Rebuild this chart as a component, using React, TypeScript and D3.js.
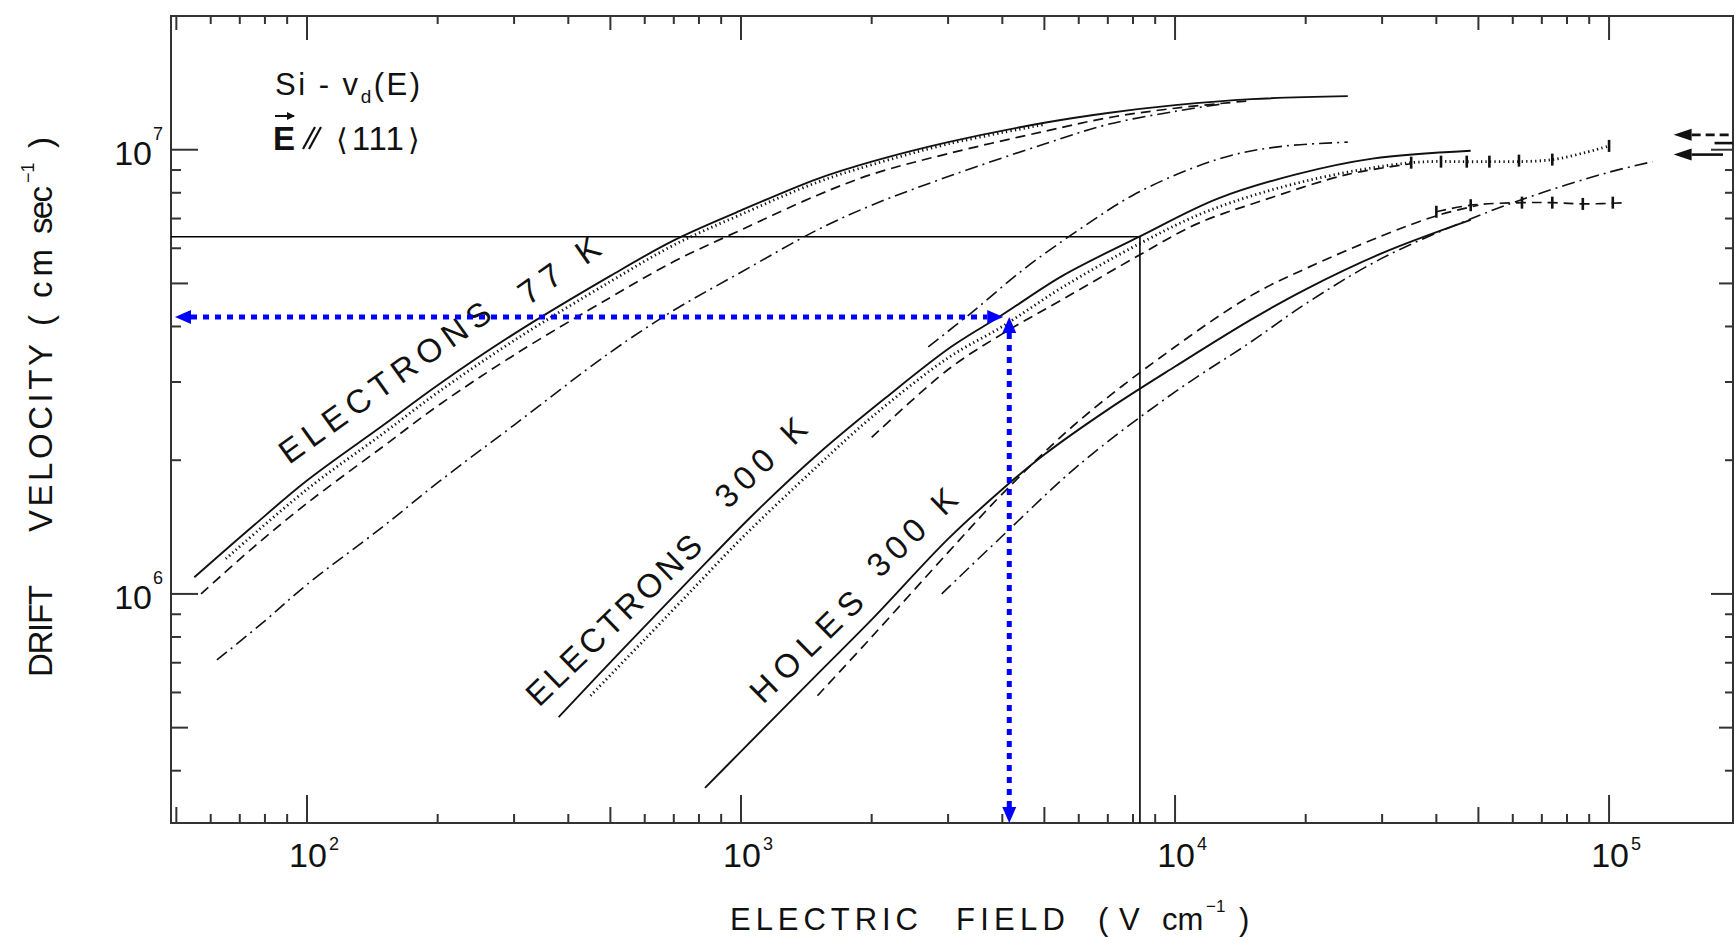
import React from "react";
import * as d3 from "d3";

type Pt = [number, number]; // [electric field (V/cm), drift velocity (cm/s)]

const WIDTH = 1735;
const HEIGHT = 937;
const PLOT = { left: 171, right: 1733, top: 16, bottom: 823 };

const FIELD_DOMAIN: [number, number] = [48.6, 1.93e5];
const VELOCITY_DOMAIN: [number, number] = [3.05e5, 2.0e7];

const xDecades = [1e2, 1e3, 1e4, 1e5];
const xDecadeExponents = ["2", "3", "4", "5"];
const yDecades = [1e6, 1e7];
const yDecadeExponents = ["6", "7"];

// Electrons, 77 K
const e77Solid: Pt[] = [
  [55, 1.09e6], [75, 1.42e6], [100, 1.8e6], [150, 2.4e6], [200, 2.95e6],
  [300, 3.85e6], [500, 5.2e6], [700, 6.25e6], [1000, 7.3e6], [1500, 8.6e6],
  [2000, 9.4e6], [3000, 1.04e7], [5000, 1.15e7], [7000, 1.21e7], [1e4, 1.26e7],
  [1.5e4, 1.3e7], [2.5e4, 1.32e7],
];
const e77Dotted: Pt[] = [
  [65, 1.2e6], [100, 1.72e6], [150, 2.3e6], [200, 2.84e6], [300, 3.72e6],
  [500, 5.05e6], [700, 6.1e6], [1000, 7.15e6], [1500, 8.45e6], [2000, 9.25e6],
  [3000, 1.03e7], [5000, 1.14e7],
];
const e77Dashed: Pt[] = [
  [57, 1.0e6], [75, 1.27e6], [100, 1.6e6], [150, 2.15e6], [200, 2.65e6],
  [300, 3.45e6], [500, 4.65e6], [700, 5.6e6], [1000, 6.6e6], [1500, 7.9e6],
  [2000, 8.8e6], [3000, 9.8e6], [5000, 1.1e7], [7000, 1.18e7], [1e4, 1.24e7],
  [1.5e4, 1.29e7],
];
const e77DashDot: Pt[] = [
  [62, 7.1e5], [80, 8.7e5], [100, 1.05e6], [150, 1.42e6], [200, 1.78e6],
  [300, 2.4e6], [500, 3.5e6], [700, 4.35e6], [1000, 5.3e6], [1500, 6.6e6],
  [2000, 7.5e6], [3000, 8.7e6], [5000, 1.03e7], [7000, 1.14e7], [1e4, 1.22e7],
  [1.3e4, 1.27e7],
];

// Electrons, 300 K
const e300Solid: Pt[] = [
  [380, 5.28e5], [525, 7.38e5], [750, 1.06e6], [1060, 1.5e6], [1500, 2.06e6],
  [2150, 2.76e6], [3050, 3.6e6], [4000, 4.25e6], [5500, 5.2e6], [8300, 6.38e6],
  [1.25e4, 7.75e6], [1.9e4, 8.8e6], [2.85e4, 9.55e6], [4.8e4, 9.95e6],
];
const e300Dotted: Pt[] = [
  [450, 5.9e5], [600, 7.9e5], [800, 1.06e6], [1000, 1.33e6], [1500, 1.94e6],
  [2000, 2.5e6], [3000, 3.4e6], [4000, 4.0e6], [5500, 4.9e6], [8300, 6.15e6],
  [1.2e4, 7.3e6], [2e4, 8.5e6], [3.5e4, 9.35e6], [5e4, 9.4e6], [7.4e4, 9.5e6],
  [1e5, 1.02e7],
];
const e300Markers: Pt[] = [
  [3.5e4, 9.35e6], [4.1e4, 9.4e6], [4.7e4, 9.4e6], [5.3e4, 9.4e6],
  [6.2e4, 9.45e6], [7.4e4, 9.5e6], [1e5, 1.02e7],
];
const e300Dashed: Pt[] = [
  [2000, 2.25e6], [3000, 3.2e6], [4000, 3.85e6], [5500, 4.6e6], [8300, 5.8e6],
  [1.12e4, 6.8e6], [1.6e4, 7.7e6], [2.5e4, 8.8e6], [3.5e4, 9.3e6],
];
const e300DashDot: Pt[] = [
  [2700, 3.6e6], [3400, 4.3e6], [4500, 5.4e6], [6000, 6.6e6], [8000, 7.9e6],
  [1.1e4, 9.1e6], [1.4e4, 9.8e6], [1.8e4, 1.02e7], [2.5e4, 1.04e7],
];

// Holes, 300 K
const hSolid: Pt[] = [
  [826, 3.66e5], [1000, 4.42e5], [1500, 6.6e5], [2000, 8.75e5], [3000, 1.33e6],
  [4000, 1.72e6], [5000, 2.06e6], [7000, 2.6e6], [1e4, 3.25e6], [1.5e4, 4.15e6],
  [2e4, 4.85e6], [3e4, 5.85e6], [4.8e4, 6.95e6],
];
const hDashed: Pt[] = [
  [1500, 5.9e5], [2000, 8.0e5], [3000, 1.24e6], [4000, 1.68e6], [6000, 2.45e6],
  [1e4, 3.6e6], [1.5e4, 4.7e6], [2e4, 5.4e6], [3e4, 6.4e6], [4e4, 7.1e6],
  [5e4, 7.5e6],
];
const hPlateau: Pt[] = [
  [4.0e4, 7.25e6], [4.8e4, 7.5e6], [6.3e4, 7.6e6], [7.4e4, 7.6e6],
  [8.7e4, 7.55e6], [1.1e5, 7.6e6],
];
const hMarkers: Pt[] = [
  [4.0e4, 7.25e6], [4.8e4, 7.5e6], [6.3e4, 7.6e6], [7.4e4, 7.6e6],
  [8.7e4, 7.55e6], [1.02e5, 7.6e6],
];
const hDashDot: Pt[] = [
  [2900, 1.0e6], [4000, 1.35e6], [6000, 1.95e6], [1e4, 2.85e6], [1.5e4, 3.7e6],
  [2e4, 4.5e6], [3e4, 5.7e6], [5e4, 7.1e6], [7e4, 8.0e6], [1e5, 8.9e6],
  [1.26e5, 9.4e6],
];

// Saturation-velocity arrows at the right edge
const satArrowDashed = 1.08e7;
const satArrowSolid = 9.75e6;
const satMark = 1.035e7;

// Guide lines
const guideField = 8300;
const guideVelocity = 6.37e6;
const readField = 4150;
const readVelocity = 4.2e6;

const FONT = "'Liberation Sans', Arial, Helvetica, sans-serif";
const AXIS = "#333";

const x = d3.scaleLog().domain(FIELD_DOMAIN).range([PLOT.left, PLOT.right]);
const y = d3.scaleLog().domain(VELOCITY_DOMAIN).range([PLOT.bottom, PLOT.top]);

const line = d3
  .line<Pt>()
  .x((d) => x(d[0]))
  .y((d) => y(d[1]))
  .curve(d3.curveCatmullRom.alpha(0.5));

function mantissa(v: number) {
  return Math.round(v / Math.pow(10, Math.floor(Math.log10(v) + 1e-9)));
}

function tickLen(v: number, major: number, mid: number, minor: number) {
  const m = mantissa(v);
  return m === 1 ? major : m === 5 ? mid : minor;
}

const styles = {
  solid: { stroke: "#111", strokeWidth: 1.9, fill: "none" },
  dotted: { stroke: "#111", strokeWidth: 2.8, fill: "none", strokeDasharray: "1.3 3.2" },
  dashed: { stroke: "#111", strokeWidth: 1.7, fill: "none", strokeDasharray: "10 6" },
  dashDot: { stroke: "#111", strokeWidth: 1.6, fill: "none", strokeDasharray: "13 5 2 5" },
};

function Curve({ data, kind }: { data: Pt[]; kind: keyof typeof styles }) {
  return <path d={line(data) ?? ""} {...(styles[kind] as any)} />;
}

function Markers({ data }: { data: Pt[] }) {
  return (
    <g stroke="#111" strokeWidth={2.6}>
      {data.map((d, i) => (
        <line key={i} x1={x(d[0])} x2={x(d[0])} y1={y(d[1]) - 6} y2={y(d[1]) + 6} />
      ))}
    </g>
  );
}

function RotLabel({ x0, y0, angle, len, text, size = 33 }: { x0: number; y0: number; angle: number; len: number; text: string; size?: number }) {
  return (
    <text
      transform={`translate(${x0},${y0}) rotate(${angle})`}
      fontFamily={FONT}
      fontSize={size}
      fill="#111"
      textLength={len}
      lengthAdjust="spacing"
    >
      {text}
    </text>
  );
}

function BlueArrow({ x1, y1, x2, y2 }: { x1: number; y1: number; x2: number; y2: number }) {
  // dotted shaft with a filled head at each end
  const dx = x2 - x1;
  const dy = y2 - y1;
  const L = Math.hypot(dx, dy);
  const ux = dx / L;
  const uy = dy / L;
  const head = 16;
  const half = 7;
  const headAt = (tx: number, ty: number, dirx: number, diry: number) => {
    const bx = tx - dirx * head;
    const by = ty - diry * head;
    return `M${tx},${ty}L${bx - diry * half},${by + dirx * half}L${bx + diry * half},${by - dirx * half}Z`;
  };
  return (
    <g>
      <line
        x1={x1 + ux * head}
        y1={y1 + uy * head}
        x2={x2 - ux * head}
        y2={y2 - uy * head}
        stroke="#0000ff"
        strokeWidth={5}
        strokeDasharray="6 6"
      />
      <path d={headAt(x1, y1, -ux, -uy)} fill="#0000ff" />
      <path d={headAt(x2, y2, ux, uy)} fill="#0000ff" />
    </g>
  );
}

export default function App() {
  const xt = x.ticks();
  const yt = y.ticks();
  const px = x(readField);
  const py = y(readVelocity);
  const gx = x(guideField);
  const gy = y(guideVelocity);

  const arrowHead = (tipX: number, vy: number) =>
    `M${tipX},${vy}L${tipX + 18},${vy - 6}L${tipX + 18},${vy + 6}Z`;

  return (
    <svg
      width={WIDTH}
      height={HEIGHT}
      style={{ position: "absolute", left: 0, top: 0, background: "#fff" }}
    >
      <rect width={WIDTH} height={HEIGHT} fill="#fff" />

      {/* frame */}
      <rect
        x={PLOT.left}
        y={PLOT.top}
        width={PLOT.right - PLOT.left}
        height={PLOT.bottom - PLOT.top}
        fill="none"
        stroke={AXIS}
        strokeWidth={2}
      />

      {/* ticks on all four sides, pointing inward */}
      <g stroke={AXIS} strokeWidth={2}>
        {xt.map((t, i) => (
          <g key={"xt" + i}>
            <line x1={x(t)} x2={x(t)} y1={PLOT.bottom} y2={PLOT.bottom - tickLen(t, 28, 16, 9)} />
            <line x1={x(t)} x2={x(t)} y1={PLOT.top} y2={PLOT.top + tickLen(t, 24, 14, 8)} />
          </g>
        ))}
        {yt.map((t, i) => (
          <g key={"yt" + i}>
            <line x1={PLOT.left} x2={PLOT.left + tickLen(t, 27, 17, 10)} y1={y(t)} y2={y(t)} />
            <line x1={PLOT.right} x2={PLOT.right - tickLen(t, 22, 14, 8)} y1={y(t)} y2={y(t)} />
          </g>
        ))}
      </g>

      {/* decade labels */}
      <g fontFamily={FONT} fill="#111">
        {xDecades.map((t, i) => (
          <g key={"xl" + i}>
            <text x={x(t) + 1} y={867} fontSize={34} textAnchor="middle">10</text>
            <text x={x(t) + 22} y={850} fontSize={18}>{xDecadeExponents[i]}</text>
          </g>
        ))}
        {yDecades.map((t, i) => (
          <g key={"yl" + i}>
            <text x={152} y={y(t) + 15} fontSize={34} textAnchor="end">10</text>
            <text x={153} y={y(t) - 10} fontSize={18}>{yDecadeExponents[i]}</text>
          </g>
        ))}
      </g>

      {/* axis titles */}
      <g fontFamily={FONT} fill="#111" fontSize={31}>
        <text x={730} y={930} textLength={188} lengthAdjust="spacing">ELECTRIC</text>
        <text x={956} y={930} textLength={109} lengthAdjust="spacing">FIELD</text>
        <text x={1098} y={930}>(</text>
        <text x={1119} y={930}>V</text>
        <text x={1162} y={930}>cm</text>
        <text x={1206} y={912} fontSize={17}>−1</text>
        <text x={1239} y={930}>)</text>
      </g>
      <g fontFamily={FONT} fill="#111" fontSize={33} transform="translate(52,0) rotate(-90)">
        <text x={-677} y={0} textLength={92} lengthAdjust="spacing">DRIFT</text>
        <text x={-532} y={0} textLength={188} lengthAdjust="spacing">VELOCITY</text>
        <text x={-326} y={0}>(</text>
        <text x={-298} y={0} textLength={49} lengthAdjust="spacing">cm</text>
        <text x={-234} y={0} textLength={48} lengthAdjust="spacing">sec</text>
        <text x={-183} y={-18} fontSize={18}>−1</text>
        <text x={-148} y={0}>)</text>
      </g>

      {/* inset annotation */}
      <g fontFamily={FONT} fill="#111">
        <text x={275} y={95} fontSize={31} letterSpacing={2.5}>
          Si - v
          <tspan fontSize={19} dy={8}>d</tspan>
          <tspan dy={-8}>(E)</tspan>
        </text>
        <text x={273} y={150} fontSize={33} fontWeight="bold">E</text>
        <line x1={275} x2={294} y1={116} y2={116} stroke="#111" strokeWidth={2} />
        <path d="M295,116 L287,112 L287,120 Z" fill="#111" />
        <line x1={303} y1={149} x2={315} y2={127} stroke="#111" strokeWidth={2.2} />
        <line x1={309} y1={149} x2={321} y2={127} stroke="#111" strokeWidth={2.2} />
        <text x={336} y={150} fontSize={33} letterSpacing={1}>
          <tspan fontFamily="'DejaVu Sans', sans-serif" fontSize={30}>⟨</tspan>
          <tspan dx={3}>111</tspan>
          <tspan dx={3} fontFamily="'DejaVu Sans', sans-serif" fontSize={30}>⟩</tspan>
        </text>
      </g>

      {/* guide lines */}
      <g stroke="#000" strokeWidth={1.6}>
        <line x1={PLOT.left} x2={gx} y1={gy} y2={gy} />
        <line x1={gx} x2={gx} y1={gy} y2={PLOT.bottom} />
      </g>

      {/* electrons 77 K */}
      <Curve data={e77DashDot} kind="dashDot" />
      <Curve data={e77Dashed} kind="dashed" />
      <Curve data={e77Dotted} kind="dotted" />
      <Curve data={e77Solid} kind="solid" />

      {/* electrons 300 K */}
      <Curve data={e300DashDot} kind="dashDot" />
      <Curve data={e300Dashed} kind="dashed" />
      <Curve data={e300Dotted} kind="dotted" />
      <Markers data={e300Markers} />
      <Curve data={e300Solid} kind="solid" />

      {/* holes 300 K */}
      <Curve data={hDashDot} kind="dashDot" />
      <Curve data={hDashed} kind="dashed" />
      <Curve data={hPlateau} kind="dashed" />
      <Markers data={hMarkers} />
      <Curve data={hSolid} kind="solid" />

      {/* saturation arrows on the right */}
      <g stroke="#111" strokeWidth={2.6}>
        <line x1={x(1.6e5) - 6} x2={PLOT.right} y1={y(satArrowDashed)} y2={y(satArrowDashed)} strokeDasharray="9 5" />
        <line x1={x(1.6e5) - 6} x2={PLOT.right - 10} y1={y(satArrowSolid)} y2={y(satArrowSolid)} />
        <line x1={x(1.75e5)} x2={PLOT.right} y1={y(satMark)} y2={y(satMark)} />
      </g>
      <path d={arrowHead(x(1.6e5) - 24, y(satArrowDashed))} fill="#111" />
      <path d={arrowHead(x(1.6e5) - 24, y(satArrowSolid))} fill="#111" />

      {/* curve labels */}
      <RotLabel x0={289} y0={465} angle={-35.6} len={252} text="ELECTRONS" />
      <RotLabel x0={528} y0={306} angle={-35} len={92} text="77 K" />
      <RotLabel x0={539} y0={708} angle={-44} len={230} text="ELECTRONS" />
      <RotLabel x0={728} y0={510} angle={-44} len={113} text="300 K" />
      <RotLabel x0={763} y0={705} angle={-44.4} len={144} text="HOLES" />
      <RotLabel x0={880} y0={579} angle={-44} len={111} text="300 K" />

      {/* blue read-off arrows */}
      <BlueArrow x1={PLOT.left + 4} y1={py} x2={px - 6} y2={py} />
      <BlueArrow x1={px} y1={py} x2={px} y2={PLOT.bottom} />
    </svg>
  );
}
